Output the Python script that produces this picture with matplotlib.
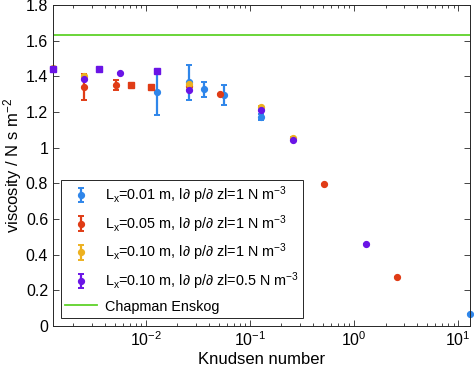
import matplotlib
matplotlib.use("Agg")
import matplotlib.pyplot as plt
from matplotlib.ticker import FixedLocator, LogLocator, NullFormatter

plt.rcParams["font.family"] = ["Liberation Sans", "DejaVu Sans"]
plt.rcParams["mathtext.fontset"] = "custom"
plt.rcParams["mathtext.rm"] = "Liberation Sans"
plt.rcParams["mathtext.it"] = "Liberation Sans:italic"

# Lx = 0.01 m, |dp/dz| = 1
kn_a = [0.0128, 0.0258, 0.0357, 0.056, 0.128, 13.0]
visc_a = [1.309, 1.365, 1.327, 1.296, 1.172, 0.066]
err_a = [0.125, 0.10, 0.042, 0.055, 0.015, 0.0]

# Lx = 0.05 m, |dp/dz| = 1
kn_b = [2.56e-3, 5.15e-3, 0.0258, 0.0515, 0.512, 2.59]
visc_b = [1.339, 1.35, 1.346, 1.30, 0.795, 0.273]
err_b = [0.071, 0.030, 0.0, 0.0, 0.0, 0.0]
kn_b_sq = [7.13e-3, 0.0112]
visc_b_sq = [1.35, 1.339]

# Lx = 0.10 m, |dp/dz| = 1
kn_c = [1.29e-3, 2.56e-3, 0.0258, 0.128, 0.258]
visc_c = [1.445, 1.40, 1.355, 1.226, 1.056]
err_c = [0.005, 0.005, 0.005, 0.005, 0.005]

# Lx = 0.10 m, |dp/dz| = 0.5
kn_d = [2.56e-3, 5.63e-3, 0.0258, 0.128, 0.258, 1.30]
visc_d = [1.387, 1.42, 1.324, 1.211, 1.041, 0.458]
err_d = [0.0, 0.0, 0.0, 0.0, 0.0, 0.0]
kn_d_sq = [1.29e-3, 3.56e-3, 0.0128]
visc_d_sq = [1.44, 1.44, 1.427]

chapman_enskog = 1.632

labels = [
    r"L$_\mathregular{x}$=0.01 m, l$\partial$ p/$\partial$ zl=1 N m$^\mathregular{-3}$",
    r"L$_\mathregular{x}$=0.05 m, l$\partial$ p/$\partial$ zl=1 N m$^\mathregular{-3}$",
    r"L$_\mathregular{x}$=0.10 m, l$\partial$ p/$\partial$ zl=1 N m$^\mathregular{-3}$",
    r"L$_\mathregular{x}$=0.10 m, l$\partial$ p/$\partial$ zl=0.5 N m$^\mathregular{-3}$",
]
colors = ["#2f86ea", "#e03c16", "#edb120", "#6a14e6"]

fig = plt.figure(figsize=(4.74, 3.75), dpi=100)
ax = fig.add_axes([0.112, 0.131, 0.880, 0.856])

xmin, xmax = 1.28e-3, 13.0

series = [(kn_a, visc_a, err_a), (kn_b, visc_b, err_b), (kn_c, visc_c, err_c), (kn_d, visc_d, err_d)]
handles = []
for (kn, v, e), c, lab in zip(series, colors, labels):
    eb = ax.errorbar(kn, v, yerr=e, fmt="o", color=c, markersize=4.2, capsize=2.5,
                     elinewidth=1.6, capthick=1.4, label=lab)
    for art in eb.lines[0:1] + tuple(eb.lines[1]) + tuple(eb.lines[2]):
        art.set_clip_on(False)
    handles.append(eb)

ax.plot(kn_b_sq, visc_b_sq, "s", color=colors[1], markersize=4.0, clip_on=False, zorder=4)
ax.plot(kn_d_sq, visc_d_sq, "s", color=colors[3], markersize=4.0, clip_on=False, zorder=4)

ce = ax.axhline(chapman_enskog, color="#5fd22a", linewidth=1.3, label="Chapman Enskog")
handles.append(ce)

ax.set_xscale("log")
ax.set_xlim(xmin, xmax)
ax.set_ylim(0, 1.8)
ax.yaxis.set_major_locator(FixedLocator([0, 0.2, 0.4, 0.6, 0.8, 1.0, 1.2, 1.4, 1.6, 1.8]))
ax.set_yticklabels(["0", "0.2", "0.4", "0.6", "0.8", "1", "1.2", "1.4", "1.6", "1.8"])
ax.xaxis.set_major_locator(LogLocator(base=10, numticks=10))
ax.xaxis.set_minor_locator(LogLocator(base=10, subs=range(2, 10), numticks=20))
ax.xaxis.set_minor_formatter(NullFormatter())

ax.tick_params(which="both", direction="in", top=True, right=True, labelsize=11.5,
               color="#262626", width=0.6)
ax.tick_params(which="major", length=4)
ax.tick_params(which="minor", length=2)
for s in ax.spines.values():
    s.set_linewidth(0.7)
    s.set_color("#262626")

ax.set_xlabel("Knudsen number", fontsize=12, labelpad=2)
ax.set_ylabel(r"viscosity / N s m$^\mathregular{-2}$", fontsize=12, labelpad=1)

leg = ax.legend(handles=handles, loc="lower left", bbox_to_anchor=(0.019, 0.025), borderaxespad=0,
                fontsize=10.4, handlelength=2.2, handletextpad=0.55, borderpad=0.3,
                labelspacing=0.5, fancybox=False, framealpha=1, edgecolor="#262626")
leg.get_frame().set_linewidth(0.7)

fig.savefig("out.png", dpi=100)
